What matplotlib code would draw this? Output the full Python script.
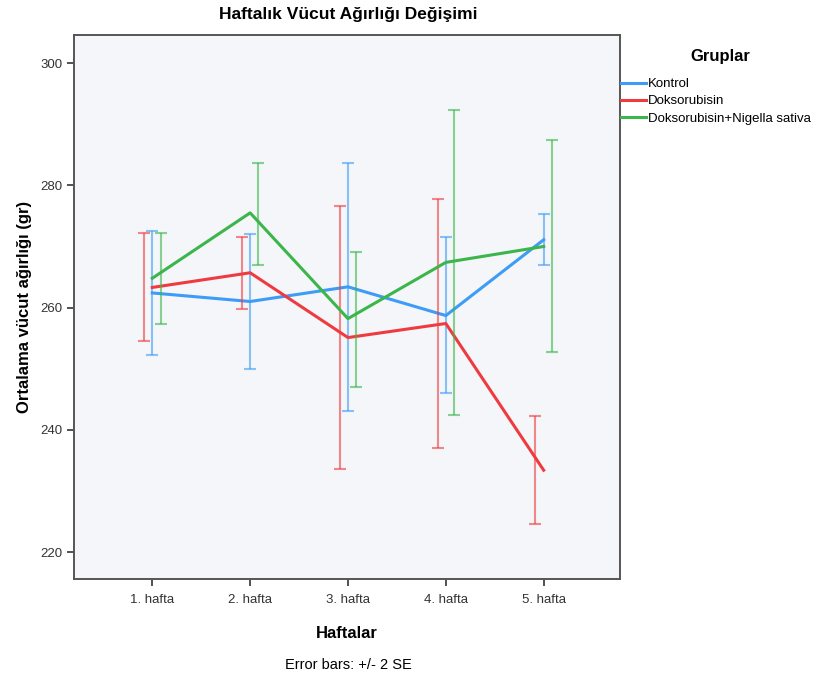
import numpy as np
import matplotlib
matplotlib.use('Agg')
import matplotlib.pyplot as plt

# data
weeks = ['1. hafta', '2. hafta', '3. hafta', '4. hafta', '5. hafta']
groups = ['Kontrol', 'Doksorubisin', 'Doksorubisin+Nigella sativa']

kontrol_mean = [262.4, 261.0, 263.4, 258.7, 271.1]
kontrol_lo = [252.3, 250.0, 243.1, 246.1, 266.9]
kontrol_hi = [272.6, 272.1, 283.7, 271.5, 275.3]

dokso_mean = [263.3, 265.7, 255.1, 257.4, 233.4]
dokso_lo = [254.6, 259.8, 233.6, 237.1, 224.6]
dokso_hi = [272.2, 271.6, 276.7, 277.8, 242.3]

nigella_mean = [264.8, 275.5, 258.2, 267.4, 270.0]
nigella_lo = [257.3, 267.0, 247.0, 242.5, 252.8]
nigella_hi = [272.2, 283.7, 269.1, 292.3, 287.4]

colors = ['#3d9cf5', '#ef3b40', '#3cb54a']

plt.rcParams['font.family'] = ['Liberation Sans', 'DejaVu Sans']

fig = plt.figure(figsize=(8.22, 6.84), dpi=100)
ax = fig.add_axes([74/822, 1-579/684, (620-74)/822, (579-35)/684])
ax.set_facecolor('#f4f6f9')

x = np.arange(1, 6)
series = [(kontrol_mean, kontrol_lo, kontrol_hi),
          (dokso_mean, dokso_lo, dokso_hi),
          (nigella_mean, nigella_lo, nigella_hi)]
offsets = [0.0, -0.085, 0.085]

for (m, lo, hi), c, off, name in zip(series, colors, offsets, groups):
    m = np.array(m); lo = np.array(lo); hi = np.array(hi)
    ax.errorbar(x + off, m, yerr=[m - lo, hi - m], fmt='none', ecolor=c,
                alpha=0.6, elinewidth=1.5, capsize=4, capthick=1.5)
    ax.plot(x, m, color=c, lw=2.2, label=name)

ax.set_xlim(0.2, 5.78)
ax.set_ylim(215.6, 304.6)
ax.set_xticks(x)
ax.set_xticklabels(weeks, fontsize=9.5, color='#222222')
ax.set_yticks([220, 240, 260, 280, 300])
ax.tick_params(axis='both', labelsize=9.5, colors='#333333', length=5, width=1.2)
ax.tick_params(axis='x', pad=6)
for s in ax.spines.values():
    s.set_color('#555555')
    s.set_linewidth(1.4)

ax.set_xlabel('Haftalar', fontsize=12, fontweight='bold', labelpad=14)
ax.set_ylabel('Ortalama vücut ağırlığı (gr)', fontsize=12, fontweight='bold', labelpad=6)
fig.text(348/822, 1-14/684, 'Haftalık Vücut Ağırlığı Değişimi', fontsize=12.5,
         fontweight='bold', ha='center', va='center')
fig.text(348/822, 1-665/684, 'Error bars: +/- 2 SE', fontsize=10.5,
         ha='center', va='center')

# legend: title drawn separately to match the spacing
fig.text(720/822, 1-56/684, 'Gruplar', fontsize=12, fontweight='bold',
         ha='center', va='center')
handles, labels = ax.get_legend_handles_labels()
fig.legend(handles, labels, loc='upper left', bbox_to_anchor=(621/822, 1-78/684),
           frameon=False, fontsize=9.5, handlelength=1.9, handletextpad=0.15,
           labelspacing=0.38, borderaxespad=0, borderpad=0)

fig.savefig('out.png', dpi=100)
